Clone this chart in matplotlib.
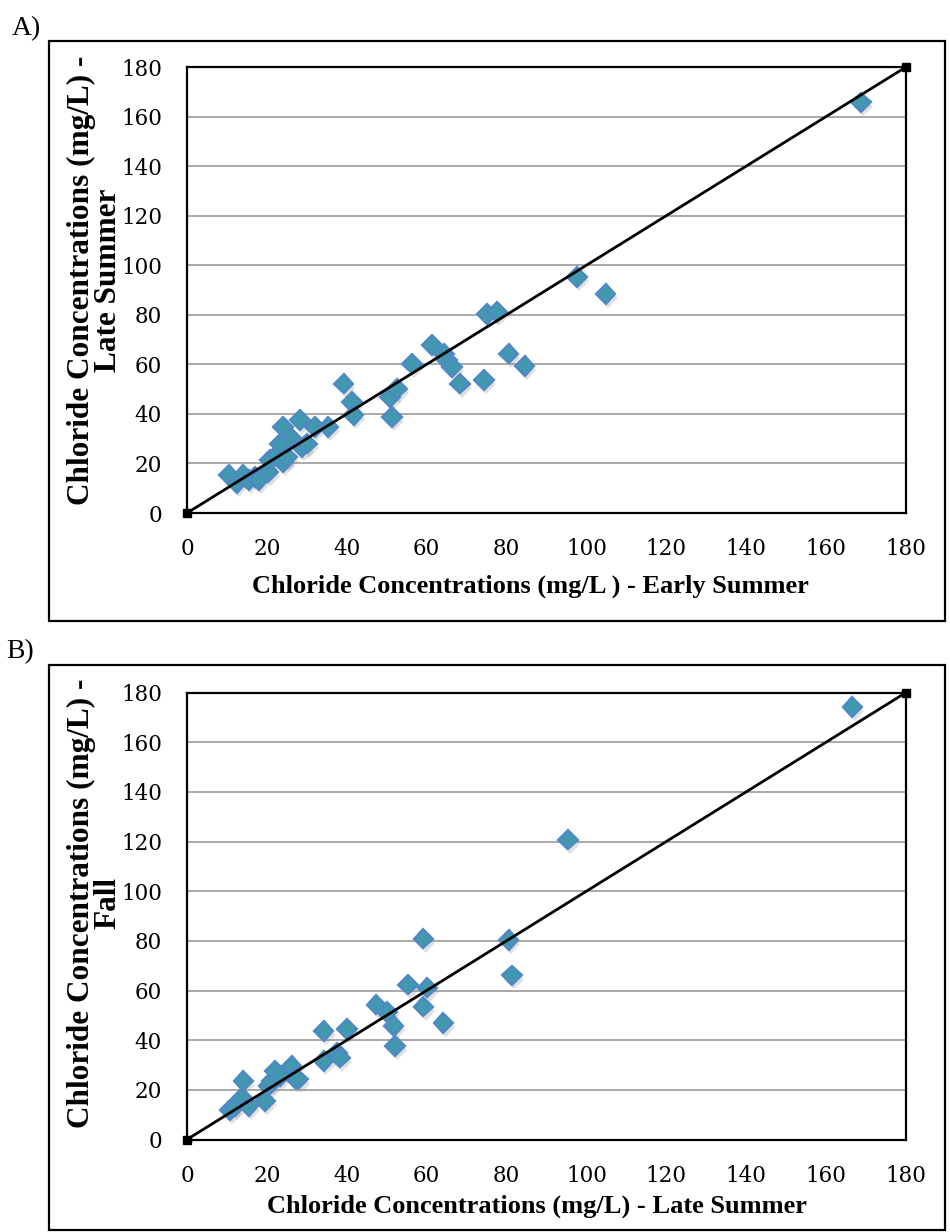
import matplotlib
matplotlib.use("Agg")
import matplotlib.pyplot as plt
import matplotlib.patheffects as pe
from matplotlib.patches import Rectangle

# chloride, mg/L
early_summer = [10.4, 12.4, 14.1, 15.4, 17.0, 17.9, 20.4, 20.8, 22.5, 24.1, 25.0, 23.3, 25.8,
                24.1, 28.3, 28.7, 30.0, 32.1, 35.4, 39.2, 41.3, 41.7, 51.3, 50.9, 52.6, 56.3,
                61.3, 64.3, 65.1, 66.3, 68.4, 74.4, 75.1, 77.6, 80.5, 84.5, 97.7, 104.8, 168.8]
late_summer_a = [15.3, 12.0, 15.3, 13.3, 14.6, 13.3, 16.6, 21.3, 23.4, 20.7, 22.7, 28.0, 30.7,
                 34.8, 37.5, 26.5, 28.0, 34.8, 34.8, 52.2, 44.8, 39.5, 38.8, 46.8, 50.2, 60.3,
                 67.7, 64.3, 61.6, 58.9, 52.2, 53.6, 80.4, 81.1, 64.3, 59.2, 95.2, 88.5, 165.7]

late_summer_b = [10.8, 12.0, 13.7, 14.1, 15.4, 19.5, 20.4, 21.2, 22.0, 23.3, 26.2, 27.1, 27.9,
                 34.2, 34.2, 37.5, 38.3, 40.0, 47.4, 50.0, 51.7, 52.1, 59.2, 55.3, 60.2, 59.2,
                 64.2, 80.5, 81.4, 95.4, 166.6]
fall = [12.0, 13.4, 16.8, 23.5, 13.4, 15.4, 21.5, 23.5, 27.5, 25.5, 29.6, 24.8, 24.2,
        43.7, 31.6, 35.0, 33.0, 44.6, 54.3, 51.3, 45.7, 37.6, 53.5, 62.4, 61.2, 80.9,
        47.0, 80.3, 66.1, 120.8, 174.1]

one_to_one = [0, 180]
ticks = list(range(0, 181, 20))

W, H = 950, 1232
fig = plt.figure(figsize=(W / 100, H / 100), dpi=100)

tick_font = {"family": "DejaVu Serif", "size": 15.5}
label_font = {"family": "Liberation Serif", "weight": "bold", "size": 19}
ylabel_font = {"family": "Liberation Serif", "weight": "bold", "size": 22.5}


def setup(ax, x, y):
    ax.plot(x, y, linestyle="none", marker="D", ms=10, mfc="#4198AF", mec="#4F88C6",
            mew=1.6, zorder=3,
            path_effects=[pe.SimplePatchShadow(offset=(1.5, -3), shadow_rgbFace="#999999",
                                               alpha=0.3), pe.Normal()])
    ax.plot(one_to_one, one_to_one, color="black", lw=2, marker="s", ms=6,
            zorder=4, clip_on=False)
    ax.set_xlim(0, 180)
    ax.set_ylim(0, 180)
    ax.set_xticks(ticks)
    ax.set_yticks(ticks)
    ax.tick_params(length=0, pad=18)
    for t in ax.get_xticklabels() + ax.get_yticklabels():
        t.set_fontfamily(tick_font["family"])
        t.set_fontsize(tick_font["size"])
    ax.yaxis.grid(True, color="#9a9a9a", lw=1.2)
    ax.set_axisbelow(True)
    for s in ax.spines.values():
        s.set_color("black")
        s.set_linewidth(1.6)


ax_a = fig.add_axes([187 / W, 1 - 513 / H, 719 / W, 446 / H])
setup(ax_a, early_summer, late_summer_a)
ax_b = fig.add_axes([187 / W, 1 - 1139.5 / H, 719 / W, 447 / H])
setup(ax_b, late_summer_b, fall)

# outer frames around each panel
for top, bottom in [(41, 621), (665, 1230)]:
    fig.add_artist(Rectangle((49 / W, 1 - bottom / H), 896 / W, (bottom - top) / H,
                             transform=fig.transFigure, fill=False, ec="black", lw=1.6))

fig.text(12 / W, 1 - 35 / H, "A)", family="Liberation Serif", size=20, va="baseline")
fig.text(6 / W, 1 - 658 / H, "B)", family="Liberation Serif", size=20, va="baseline")

fig.text(530 / W, 1 - 586 / H, "Chloride Concentrations (mg/L ) - Early Summer",
         ha="center", va="center", **label_font)
fig.text(95 / W, 1 - 280 / H, "Chloride Concentrations (mg/L) -\nLate Summer",
         rotation=90, ha="center", va="center", multialignment="center",
         linespacing=0.9, **ylabel_font)

fig.text(537 / W, 1 - 1206 / H, "Chloride Concentrations (mg/L) - Late Summer",
         ha="center", va="center", **label_font)
fig.text(95 / W, 1 - 903 / H, "Chloride Concentrations (mg/L) -\nFall",
         rotation=90, ha="center", va="center", multialignment="center",
         linespacing=0.9, **ylabel_font)

fig.savefig("out.png", dpi=100)
